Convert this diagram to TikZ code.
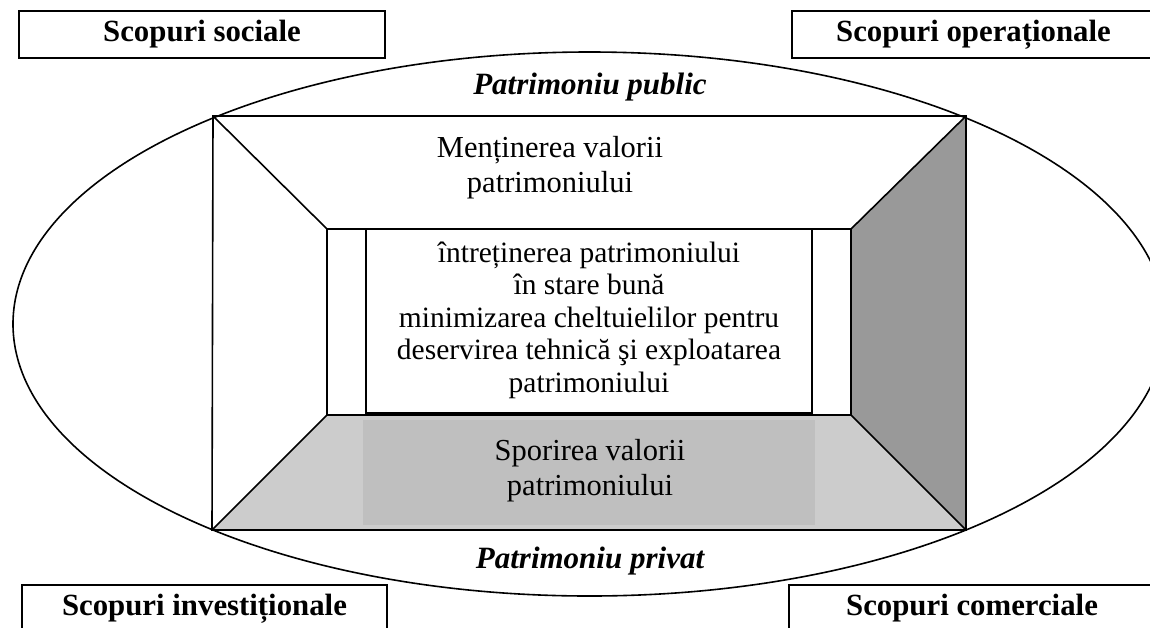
\documentclass[tikz,border=0pt]{standalone}
\usepackage{fontspec}
\setmainfont{Liberation Serif}
\begin{document}
\begin{tikzpicture}[x=1pt,y=-1pt,
  line/.style={line width=1.6pt,black},
  goalbox/.style={draw,line width=1.6pt,fill=white,minimum width=366pt,minimum height=47pt,inner sep=0pt,font=\fontsize{30.8}{35}\selectfont\bfseries},
  patlabel/.style={font=\fontsize{31}{35}\selectfont\bfseries\itshape,inner sep=0pt},
  bodytext/.style={font=\fontsize{30.5}{35}\selectfont,align=center,inner sep=0pt},
  centertext/.style={font=\fontsize{29.5}{32.5}\selectfont,align=center,inner sep=0pt}]
\clip (0,0) rectangle (1150,627);
\fill[white] (0,0) rectangle (1150,627);
% ellipse
\draw[line] (589.5,324) ellipse [x radius=576.5, y radius=272];
% room corners
\coordinate (otl) at (213,116);
\coordinate (otr) at (966,116);
\coordinate (obl) at (212,530);
\coordinate (obr) at (966,530);
\coordinate (itl) at (327,229);
\coordinate (itr) at (851,229);
\coordinate (ibl) at (327,415);
\coordinate (ibr) at (851,415);
% floor
\fill[gray!40] (obl) -- (obr) -- (ibr) -- (ibl) -- cycle;
\fill[gray!50] (363,420) rectangle (815,525);
% right wall
\fill[gray!80] (otr) -- (obr) -- (ibr) -- (itr) -- cycle;
% outlines
\draw[line] (otl) -- (otr) -- (obr) -- (obl) -- cycle;
\draw[line] (itl) rectangle (ibr);
\draw[line] (otl) -- (itl);
\draw[line] (otr) -- (itr);
\draw[line] (obl) -- (ibl);
\draw[line] (obr) -- (ibr);
% center box
\draw[line] (366,229) rectangle (812,413);
\node[centertext] (center) at (589,320) {întreținerea patrimoniului\\în stare bună\\minimizarea cheltuielilor pentru\\deservirea tehnică şi exploatarea\\patrimoniului};
% texts
\node[patlabel] (pub) at (590,87) {Patrimoniu public};
\node[patlabel] (priv) at (590,561) {Patrimoniu privat};
\node[bodytext] (ment) at (550,168) {Menținerea valorii\\patrimoniului};
\node[bodytext] (spor) at (590,471) {Sporirea valorii\\patrimoniului};
% goal boxes
\node[goalbox] (soc) at (202,34.5) {Scopuri sociale};
\node[goalbox,minimum width=363pt] (oper) at (973.5,34.5) {Scopuri operaționale};
\node[goalbox,minimum width=365pt] (inv) at (204.5,608.5) {Scopuri investiționale};
\node[goalbox,minimum width=366pt] (com) at (972,608.5) {Scopuri comerciale};
\end{tikzpicture}
\end{document}
